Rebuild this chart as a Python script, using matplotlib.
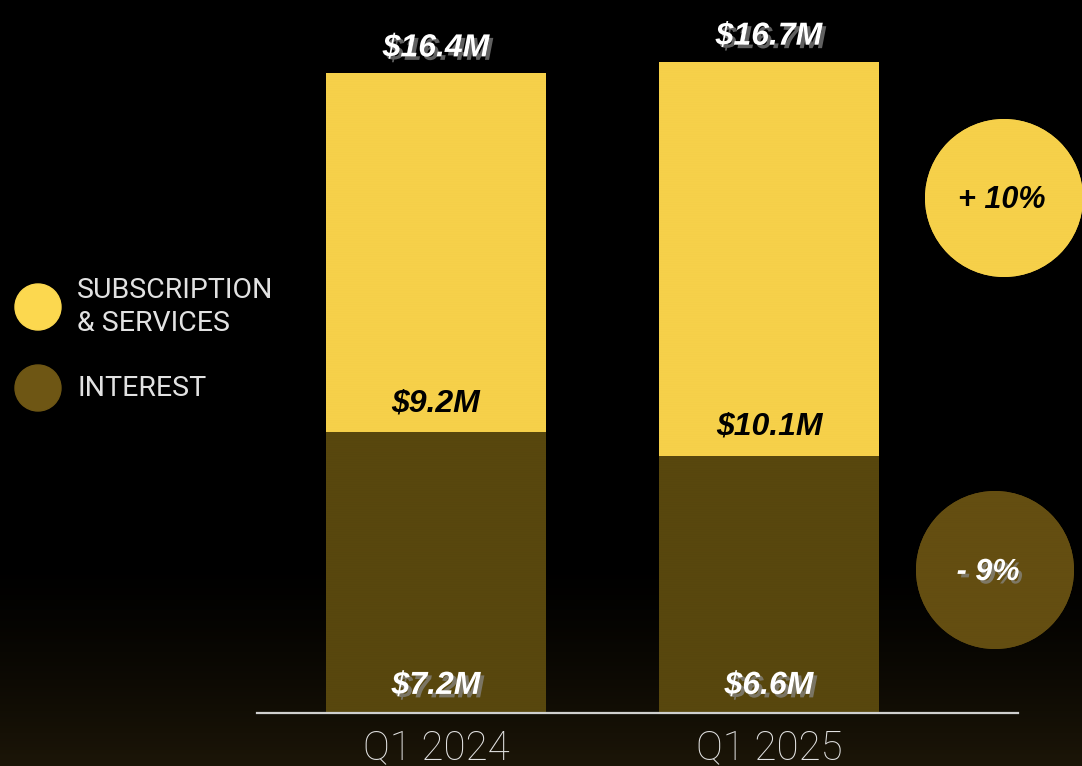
import numpy as np
import matplotlib
matplotlib.use("Agg")
import matplotlib.pyplot as plt
from matplotlib.patches import Circle
import matplotlib.patheffects as pe

# ---- data ----
quarters = ["Q1 2024", "Q1 2025"]
interest = [7.2, 6.6]
subscription = [9.2, 10.1]
totals = [16.4, 16.7]
series_names = ["SUBSCRIPTION\n& SERVICES", "INTEREST"]
change_labels = ["+ 10%", "- 9%"]

# ---- style ----
YELLOW = "#FCD84F"
YELLOW_LINE = "#F5CF49"
BROWN = "#604D10"
BROWN_LINE = "#57460D"
BROWN_DOT = "#6E5614"
BROWN_DOT_LINE = "#634D11"
GREY_TEXT = "#E2E2E2"
VALUE_FONT = dict(family="Liberation Sans", weight="bold", style="italic")

W, H = 1082, 766
fig = plt.figure(figsize=(W / 100, H / 100), dpi=100, facecolor="black")

# dark backdrop that warms toward the bottom edge
bg = fig.add_axes([0, 0, 1, 1], zorder=0)
rows = np.linspace(0, 1, H)
t = np.clip((rows - 0.72) / 0.28, 0, 1) ** 1.5
warm = np.array([0.11, 0.085, 0.03])
img = (t[:, None] * warm[None, :])[:, None, :]
bg.imshow(img, aspect="auto", extent=[0, 1, 0, 1], origin="upper")
bg.set_axis_off()

# ---- stacked bars ----
px_per_unit = 39.0
ax = fig.add_axes([257 / W, 53 / H, (1018 - 257) / W, 713 / H], zorder=1)
ax.set_facecolor("none")
x = np.arange(len(quarters))
bar_w = 0.661
ax.set_xlim(-0.5375, 1.748)
ax.set_ylim(0, 713 / px_per_unit)

plt.rcParams["hatch.linewidth"] = 0.4
stripes = "-" * 26
ax.bar(x, interest, width=bar_w, color=BROWN, edgecolor=BROWN_LINE,
       linewidth=0, hatch=stripes)
ax.bar(x, subscription, bottom=interest, width=bar_w, color=YELLOW,
       edgecolor=YELLOW_LINE, linewidth=0, hatch=stripes)

shadow = [pe.SimplePatchShadow(offset=(2.5, -2.5), shadow_rgbFace="#8a8a8a", alpha=0.7),
          pe.Normal()]

for xi, tot in zip(x, totals):
    ax.annotate(f"${tot:.1f}M", xy=(xi, tot), xytext=(0, 18), textcoords="offset points",
                ha="center", va="center", color="white", fontsize=23,
                path_effects=shadow, **VALUE_FONT)
for xi, intr, sub in zip(x, interest, subscription):
    ax.annotate(f"${sub:.1f}M", xy=(xi, intr), xytext=(0, 21), textcoords="offset points",
                ha="center", va="center", color="black", fontsize=23, **VALUE_FONT)
    ax.annotate(f"${intr:.1f}M", xy=(xi, 0), xytext=(0, 19.5), textcoords="offset points",
                ha="center", va="center", color="white", fontsize=23,
                path_effects=shadow, **VALUE_FONT)

ax.set_xticks(x, quarters)
ax.tick_params(axis="x", length=0, pad=11, labelsize=29, labelcolor=GREY_TEXT)
for lbl in ax.get_xticklabels():
    lbl.set_fontfamily("Roboto")
    lbl.set_fontweight("light")
ax.set_yticks([])
for side in ("top", "right", "left"):
    ax.spines[side].set_visible(False)
ax.spines["bottom"].set_color("#CFCFCF")
ax.spines["bottom"].set_linewidth(1.6)

# ---- legend and change badges (pixel coordinates) ----
ov = fig.add_axes([0, 0, 1, 1], zorder=3)
ov.set_xlim(0, W)
ov.set_ylim(H, 0)
ov.set_facecolor("none")
ov.set_axis_off()

ov.add_patch(Circle((38, 307), 23, color=YELLOW))
ov.add_patch(Circle((38, 388), 23, color=BROWN_DOT))
ov.text(77, 307, series_names[0], ha="left", va="center", color=GREY_TEXT,
        fontsize=20.5, linespacing=1.32, family="Roboto", weight="normal")
ov.text(77, 388, series_names[1], ha="left", va="center", color=GREY_TEXT,
        fontsize=20.5, family="Roboto", weight="normal")

ov.add_patch(Circle((1004, 198), 79, facecolor=YELLOW, edgecolor=YELLOW_LINE,
                    linewidth=0, hatch=stripes))
ov.add_patch(Circle((995, 570), 79, facecolor=BROWN_DOT, edgecolor=BROWN_DOT_LINE,
                    linewidth=0, hatch=stripes))
ov.text(1002, 200, change_labels[0], ha="center", va="center", color="black",
        fontsize=22, **VALUE_FONT)
ov.text(988, 572, change_labels[1], ha="center", va="center", color="white",
        fontsize=22, path_effects=shadow, **VALUE_FONT)

fig.savefig("out.png", dpi=100, facecolor="black")
